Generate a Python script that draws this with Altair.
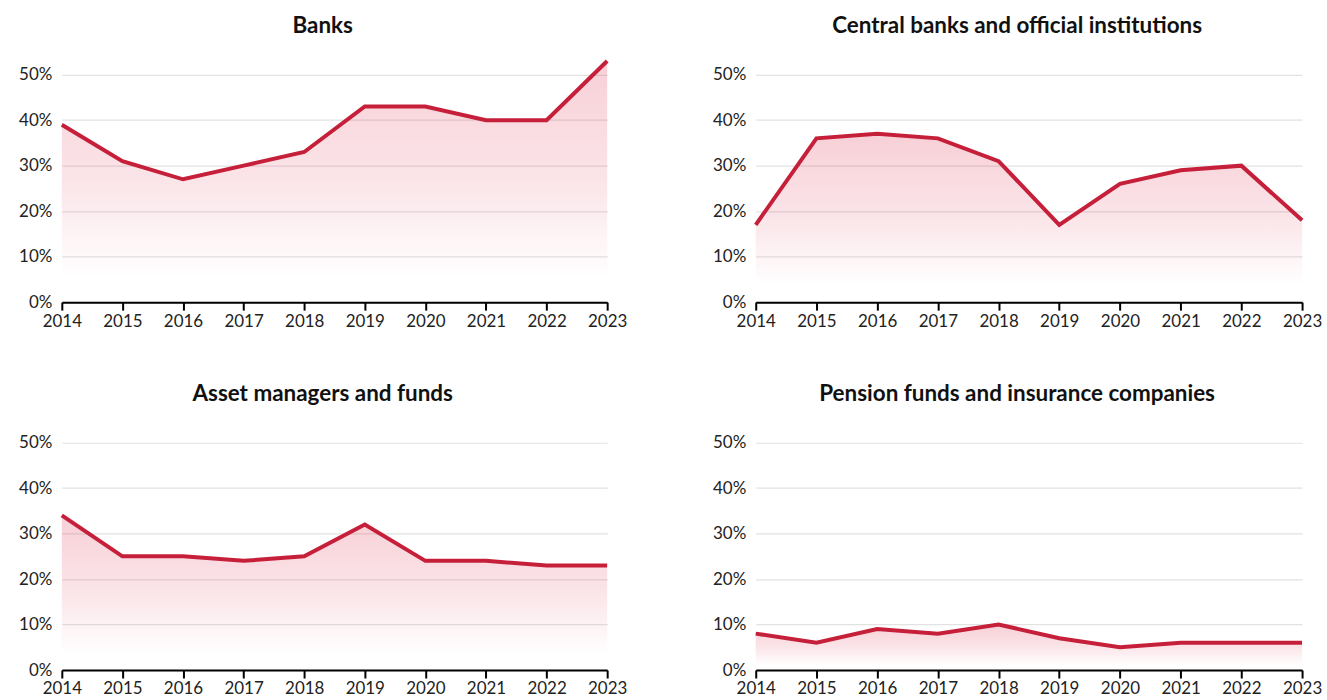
import altair as alt
import pandas as pd

years = [2014, 2015, 2016, 2017, 2018, 2019, 2020, 2021, 2022, 2023]
panel_titles = [
    "Banks",
    "Central banks and official institutions",
    "Asset managers and funds",
    "Pension funds and insurance companies",
]
banks = [39, 31, 27, 30, 33, 43, 43, 40, 40, 53]
central_banks = [17, 36, 37, 36, 31, 17, 26, 29, 30, 18]
asset_managers = [34, 25, 25, 24, 25, 32, 24, 24, 23, 23]
pension_funds = [8, 6, 9, 8, 10, 7, 5, 6, 6, 6]
series = [banks, central_banks, asset_managers, pension_funds]
y_ticks = [0, 0.1, 0.2, 0.3, 0.4, 0.5]

RED = "#c61f3a"
FONT = "Lato"

gradient = alt.Gradient(
    gradient="linear",
    x1=0, x2=0, y1=0, y2=1,
    stops=[
        alt.GradientStop(color="rgba(220,40,70,0.22)", offset=0),
        alt.GradientStop(color="rgba(220,40,70,0.12)", offset=0.5),
        alt.GradientStop(color="rgba(220,40,70,0.0)", offset=0.9),
    ],
)


def panel(title, values, width):
    df = pd.DataFrame({"year": years, "share": [v / 100 for v in values]})
    base = alt.Chart(df).encode(
        x=alt.X(
            "year:Q",
            scale=alt.Scale(domain=[2014, 2023], nice=False, zero=False),
            axis=alt.Axis(
                title=None, values=years, format="d", grid=False,
                domain=True, domainColor="#000000", domainWidth=2,
                ticks=True, tickColor="#000000", tickWidth=2, tickSize=8,
                labelPadding=3, labelFontSize=17, labelColor="#222222",
                labelFont=FONT, labelFlush=False,
            ),
        ),
        y=alt.Y(
            "share:Q",
            scale=alt.Scale(domain=[0, 0.55], nice=False),
            axis=alt.Axis(
                title=None, values=y_ticks, format=".0%",
                grid=True, gridColor="#e2e2e2", gridWidth=1.2,
                domain=False, ticks=False, labelPadding=10,
                labelFontSize=17, labelColor="#222222", labelFont=FONT,
            ),
        ),
    )
    area = base.mark_area(fill=gradient, line=False)
    line = base.mark_line(color=RED, strokeWidth=4, strokeJoin="miter")
    return alt.layer(area, line).properties(
        width=width,
        height=251,
        title=alt.TitleParams(
            text=title, fontSize=22.5, font=FONT, fontWeight="bold",
            color="#111111", anchor="middle", frame="bounds", offset=14,
        ),
    )


widths = [547, 548, 547, 548]
charts = [panel(t, v, w) for t, v, w in zip(panel_titles, series, widths)]

chart = alt.vconcat(
    alt.hconcat(charts[0], charts[1], spacing=85),
    alt.hconcat(charts[2], charts[3], spacing=85),
    spacing=54,
).properties(
    padding={"left": 18, "top": 14, "right": 5, "bottom": 5},
).configure(
    background="white",
    view=alt.ViewConfig(strokeWidth=0, stroke="transparent"),
)

chart.save("out.html", embed_options={"renderer": "svg", "actions": False})
